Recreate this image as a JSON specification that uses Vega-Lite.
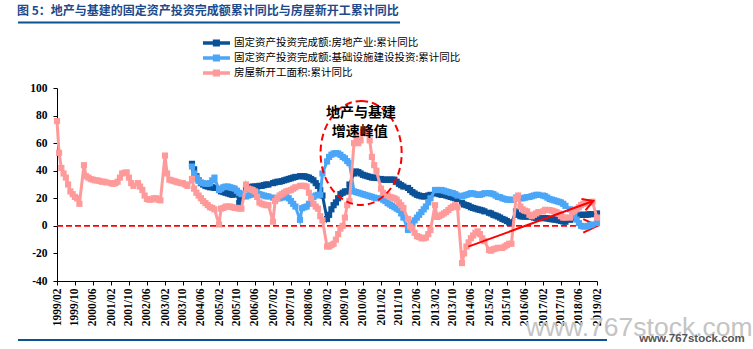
{
  "$schema": "https://vega.github.io/schema/vega-lite/v6.json",
  "width": 540,
  "height": 193,
  "autosize": "none",
  "padding": {"left": 57, "top": 88, "right": 156, "bottom": 68},
  "background": "white",
  "title": {
    "text": "图 5：地产与基建的固定资产投资完成额累计同比与房屋新开工累计同比",
    "anchor": "start", "frame": "group", "dx": -40, "dy": 12, "offset": 4,
    "font": "Noto Sans CJK SC", "fontSize": 12, "fontWeight": "bold", "color": "#1c4a8c", "baseline": "bottom"
  },
  "config": {
    "view": {"stroke": null},
    "axis": {"domainWidth": 1, "domainColor": "#000", "tickColor": "#000", "labelColor": "#000", "grid": false, "title": null, "labelOverlap": false}
  },
  "data": {"values": [
    {"d":"1999-02","c":76},{"d":"1999-03","c":53},{"d":"1999-04","c":42},{"d":"1999-05","c":38},{"d":"1999-06","c":35},{"d":"1999-07","c":30},{"d":"1999-08","c":25},{"d":"1999-09","c":23},{"d":"1999-10","c":21},{"d":"1999-11","c":20},{"d":"1999-12","c":16},
    {"d":"2000-02","c":44},{"d":"2000-03","c":36},{"d":"2000-04","c":35},{"d":"2000-05","c":34},{"d":"2000-06","c":33.5},{"d":"2000-07","c":33},{"d":"2000-08","c":33},{"d":"2000-09","c":32.5},{"d":"2000-10","c":32},{"d":"2000-11","c":32},{"d":"2000-12","c":31.5},
    {"d":"2001-02","c":31},{"d":"2001-03","c":30.5},{"d":"2001-04","c":31},{"d":"2001-05","c":32},{"d":"2001-06","c":35},{"d":"2001-07","c":38},{"d":"2001-08","c":38.5},{"d":"2001-09","c":38.8},{"d":"2001-10","c":35},{"d":"2001-11","c":31},{"d":"2001-12","c":29},
    {"d":"2002-02","c":31},{"d":"2002-03","c":28.5},{"d":"2002-04","c":26},{"d":"2002-05","c":22},{"d":"2002-06","c":19.5},{"d":"2002-07","c":19},{"d":"2002-08","c":19},{"d":"2002-09","c":20},{"d":"2002-10","c":20},{"d":"2002-11","c":19},{"d":"2002-12","c":18.5},
    {"d":"2003-02","c":51},{"d":"2003-03","c":38},{"d":"2003-04","c":33.5},{"d":"2003-05","c":33},{"d":"2003-06","c":32.5},{"d":"2003-07","c":32},{"d":"2003-08","c":31.5},{"d":"2003-09","c":31},{"d":"2003-10","c":31},{"d":"2003-11","c":30},{"d":"2003-12","c":29},
    {"d":"2004-02","a":45,"b":43,"c":34},{"d":"2004-03","a":41,"b":38,"c":27},{"d":"2004-04","a":36,"b":35,"c":24},{"d":"2004-05","a":33,"b":33,"c":22},{"d":"2004-06","a":31,"b":31.5,"c":20},{"d":"2004-07","a":30,"b":31,"c":18},{"d":"2004-08","a":29,"b":30.5,"c":16.5},{"d":"2004-09","a":28.5,"b":30.5,"c":15},{"d":"2004-10","a":28,"b":31,"c":13.5},{"d":"2004-11","a":28,"b":33,"c":13},{"d":"2004-12","a":27.5,"b":35,"c":12},
    {"d":"2005-02","a":26,"b":26,"c":1},{"d":"2005-03","a":25,"b":27,"c":12.5},{"d":"2005-04","a":24.5,"b":28,"c":13},{"d":"2005-05","a":24,"b":28.5,"c":14},{"d":"2005-06","a":23.5,"b":28.5,"c":14},{"d":"2005-07","a":23,"b":28,"c":14},{"d":"2005-08","a":22.5,"b":27.5,"c":13.5},{"d":"2005-09","a":23,"b":27,"c":13},{"d":"2005-10","a":23.5,"b":25.5,"c":13},{"d":"2005-11","a":16.5,"b":24,"c":12.5},{"d":"2005-12","a":21,"b":23,"c":12.5},
    {"d":"2006-02","a":27,"b":21.3,"c":30},{"d":"2006-03","a":27.5,"b":22,"c":27},{"d":"2006-04","a":28,"b":22.5,"c":26.5},{"d":"2006-05","a":28.5,"b":23,"c":26},{"d":"2006-06","a":28.5,"b":23.5,"c":25},{"d":"2006-07","a":28.5,"b":23.7,"c":21},{"d":"2006-08","a":29,"b":23,"c":17},{"d":"2006-09","a":29,"b":22.5,"c":16},{"d":"2006-10","a":29.5,"b":22,"c":15.5},{"d":"2006-11","a":30,"b":21.5,"c":15},{"d":"2006-12","a":30,"b":21.3,"c":15},
    {"d":"2007-02","a":31,"b":20.5,"c":3},{"d":"2007-03","a":31.5,"b":20,"c":18},{"d":"2007-04","a":32,"b":20,"c":20},{"d":"2007-05","a":32,"b":20,"c":22},{"d":"2007-06","a":32.5,"b":20.5,"c":23},{"d":"2007-07","a":33,"b":21,"c":24},{"d":"2007-08","a":33.5,"b":21.3,"c":25},{"d":"2007-09","a":34,"b":20,"c":25.5},{"d":"2007-10","a":34.5,"b":18,"c":26},{"d":"2007-11","a":35,"b":16,"c":27},{"d":"2007-12","a":35.5,"b":14,"c":28},
    {"d":"2008-02","a":36,"b":4.4,"c":29},{"d":"2008-03","a":36,"b":12.8,"c":29},{"d":"2008-04","a":36,"b":13.5,"c":29},{"d":"2008-05","a":35.5,"b":14,"c":28.5},{"d":"2008-06","a":35,"b":16,"c":24},{"d":"2008-07","a":34,"b":18.5,"c":20},{"d":"2008-08","a":33,"b":21,"c":16},{"d":"2008-09","a":31,"b":22,"c":14},{"d":"2008-10","a":29,"b":22.5,"c":12.5},{"d":"2008-11","a":26,"b":22.5,"c":7},{"d":"2008-12","a":22,"b":38,"c":4},
    {"d":"2009-02","a":5,"b":46.7,"c":-15},{"d":"2009-03","a":8,"b":50,"c":-15},{"d":"2009-04","a":12,"b":51.6,"c":-14},{"d":"2009-05","a":15,"b":52.5,"c":-13},{"d":"2009-06","a":17,"b":52.8,"c":-10},{"d":"2009-07","a":20,"b":52.5,"c":-6},{"d":"2009-08","a":23,"b":51.5,"c":-2},{"d":"2009-09","a":24,"b":50,"c":0},{"d":"2009-10","a":25,"b":49,"c":6},{"d":"2009-11","a":25,"b":47,"c":15},{"d":"2009-12","a":30,"b":45.5,"c":18},
    {"d":"2010-02","a":38,"b":25,"c":60},{"d":"2010-03","a":39.5,"b":24.5,"c":66},{"d":"2010-04","a":39,"b":24,"c":60},{"d":"2010-05","a":38,"b":23.5,"c":62},{"d":"2010-06","a":37,"b":23,"c":68},{"d":"2010-07","a":36.5,"b":22.5,"c":69},{"d":"2010-08","a":36,"b":22,"c":68},{"d":"2010-09","a":35.5,"b":21.5,"c":62},{"d":"2010-10","a":35,"b":21,"c":50},{"d":"2010-11","a":35,"b":20.5,"c":44},{"d":"2010-12","a":34.7,"b":20,"c":40},
    {"d":"2011-02","a":34,"b":20,"c":27},{"d":"2011-03","a":33.5,"b":19,"c":24},{"d":"2011-04","a":33.5,"b":18,"c":22.5},{"d":"2011-05","a":33.5,"b":16.5,"c":22},{"d":"2011-06","a":33.5,"b":15.5,"c":21},{"d":"2011-07","a":33.5,"b":14.5,"c":20.5},{"d":"2011-08","a":33.5,"b":13.5,"c":20},{"d":"2011-09","a":32,"b":12.5,"c":19},{"d":"2011-10","a":30.5,"b":11.6,"c":17},{"d":"2011-11","a":29.5,"b":9,"c":15},{"d":"2011-12","a":28.5,"b":6,"c":13},
    {"d":"2012-02","a":27.5,"b":-2.9,"c":5},{"d":"2012-03","a":26,"b":0,"c":-0.5},{"d":"2012-04","a":24.5,"b":2,"c":-2},{"d":"2012-05","a":23.5,"b":4,"c":-5},{"d":"2012-06","a":22.5,"b":6,"c":-7.5},{"d":"2012-07","a":22,"b":8,"c":-8},{"d":"2012-08","a":21.5,"b":10,"c":-9},{"d":"2012-09","a":21.3,"b":12,"c":-9},{"d":"2012-10","a":21.5,"b":14,"c":-8.5},{"d":"2012-11","a":22,"b":17,"c":-6},{"d":"2012-12","a":22.5,"b":20,"c":-3},
    {"d":"2013-02","a":23.7,"b":26,"c":15},{"d":"2013-03","a":23.5,"b":26,"c":6.5},{"d":"2013-04","a":23,"b":26,"c":7},{"d":"2013-05","a":22.5,"b":26,"c":8},{"d":"2013-06","a":22.5,"b":25.5,"c":9},{"d":"2013-07","a":22,"b":25,"c":10},{"d":"2013-08","a":21.5,"b":24.5,"c":11.5},{"d":"2013-09","a":21,"b":24,"c":13},{"d":"2013-10","a":20.5,"b":23.7,"c":14},{"d":"2013-11","a":20,"b":23,"c":15},{"d":"2013-12","a":19.5,"b":22,"c":13.5},
    {"d":"2014-02","a":16.5,"b":21.3,"c":-27},{"d":"2014-03","a":15.5,"b":22,"c":-20},{"d":"2014-04","a":15,"b":22.5,"c":-15},{"d":"2014-05","a":14.5,"b":23,"c":-12},{"d":"2014-06","a":13.5,"b":23.7,"c":-9},{"d":"2014-07","a":13,"b":23.5,"c":-7},{"d":"2014-08","a":12.5,"b":23,"c":-5},{"d":"2014-09","a":12,"b":22.5,"c":-4},{"d":"2014-10","a":11.6,"b":22.5,"c":-6},{"d":"2014-11","a":11.2,"b":23,"c":-9},{"d":"2014-12","a":10.5,"b":23.7,"c":-11},
    {"d":"2015-02","a":9.5,"b":23.7,"c":-17.5},{"d":"2015-03","a":9,"b":23.5,"c":-18},{"d":"2015-04","a":8,"b":23,"c":-17},{"d":"2015-05","a":7.5,"b":22,"c":-16.5},{"d":"2015-06","a":6.8,"b":21,"c":-16},{"d":"2015-07","a":6,"b":20.8,"c":-16},{"d":"2015-08","a":5,"b":20,"c":-16},{"d":"2015-09","a":4.4,"b":19.5,"c":-15},{"d":"2015-10","a":3.5,"b":19,"c":-14},{"d":"2015-11","a":2.5,"b":19,"c":-13},{"d":"2015-12","a":2,"b":18.9,"c":-13},
    {"d":"2016-02","a":10.5,"b":20.5,"c":20},{"d":"2016-03","a":8,"b":20,"c":22},{"d":"2016-04","a":7,"b":20,"c":14},{"d":"2016-05","a":6.8,"b":20,"c":12},{"d":"2016-06","a":6.8,"b":20.5,"c":11},{"d":"2016-07","a":6.8,"b":20.8,"c":10.5},{"d":"2016-08","a":6.8,"b":21,"c":8},{"d":"2016-09","a":6.5,"b":21.5,"c":7},{"d":"2016-10","a":6,"b":22,"c":8},{"d":"2016-11","a":5.8,"b":22.5,"c":9},{"d":"2016-12","a":5.6,"b":22.5,"c":10},
    {"d":"2017-02","a":5.6,"b":22,"c":10.5},{"d":"2017-03","a":5.6,"b":21.5,"c":11.6},{"d":"2017-04","a":5.5,"b":20.5,"c":11.5},{"d":"2017-05","a":5,"b":19.5,"c":11.5},{"d":"2017-06","a":4.8,"b":19,"c":11},{"d":"2017-07","a":4.6,"b":18.5,"c":10.5},{"d":"2017-08","a":4.4,"b":18,"c":10},{"d":"2017-09","a":4,"b":17.5,"c":9},{"d":"2017-10","a":3.6,"b":17,"c":7},{"d":"2017-11","a":3.2,"b":16,"c":6},{"d":"2017-12","a":3,"b":14.5,"c":6},
    {"d":"2018-02","a":4.4,"b":12,"c":6},{"d":"2018-03","a":5.5,"b":10,"c":10},{"d":"2018-04","a":6.5,"b":7.5,"c":11},{"d":"2018-05","a":7.5,"b":4.5,"c":12},{"d":"2018-06","a":8,"b":2,"c":13.5},{"d":"2018-07","a":8,"b":0,"c":15},{"d":"2018-08","a":8,"b":-0.5,"c":16},{"d":"2018-09","a":8,"b":-0.5,"c":17},{"d":"2018-10","a":8.2,"b":0,"c":16.5},{"d":"2018-11","a":8.5,"b":0.5,"c":17},{"d":"2018-12","a":8.5,"b":1,"c":17.5},
    {"d":"2019-02","a":9,"b":2,"c":6}
  ]},
  "transform": [{"fold": ["a", "b", "c"], "as": ["k", "v"]}],
  "layer": [
    {
      "data": {"values": [{}]},
      "mark": {"type": "rule", "color": "#ff0000", "strokeWidth": 1.6, "strokeDash": [6, 3]},
      "encoding": {
        "x": {
          "datum": {"year": 1999, "month": 2, "date": 1, "utc": true}, "type": "temporal",
          "scale": {"type": "utc", "domain": [{"year": 1999, "month": 2, "date": 1, "utc": true}, {"year": 2019, "month": 2, "date": 1, "utc": true}]},
          "axis": {
            "values": [
              {"year":1999,"month":2,"date":1,"utc":true},{"year":1999,"month":10,"date":1,"utc":true},{"year":2000,"month":6,"date":1,"utc":true},
              {"year":2001,"month":2,"date":1,"utc":true},{"year":2001,"month":10,"date":1,"utc":true},{"year":2002,"month":6,"date":1,"utc":true},
              {"year":2003,"month":2,"date":1,"utc":true},{"year":2003,"month":10,"date":1,"utc":true},{"year":2004,"month":6,"date":1,"utc":true},
              {"year":2005,"month":2,"date":1,"utc":true},{"year":2005,"month":10,"date":1,"utc":true},{"year":2006,"month":6,"date":1,"utc":true},
              {"year":2007,"month":2,"date":1,"utc":true},{"year":2007,"month":10,"date":1,"utc":true},{"year":2008,"month":6,"date":1,"utc":true},
              {"year":2009,"month":2,"date":1,"utc":true},{"year":2009,"month":10,"date":1,"utc":true},{"year":2010,"month":6,"date":1,"utc":true},
              {"year":2011,"month":2,"date":1,"utc":true},{"year":2011,"month":10,"date":1,"utc":true},{"year":2012,"month":6,"date":1,"utc":true},
              {"year":2013,"month":2,"date":1,"utc":true},{"year":2013,"month":10,"date":1,"utc":true},{"year":2014,"month":6,"date":1,"utc":true},
              {"year":2015,"month":2,"date":1,"utc":true},{"year":2015,"month":10,"date":1,"utc":true},{"year":2016,"month":6,"date":1,"utc":true},
              {"year":2017,"month":2,"date":1,"utc":true},{"year":2017,"month":10,"date":1,"utc":true},{"year":2018,"month":6,"date":1,"utc":true},
              {"year":2019,"month":2,"date":1,"utc":true}
            ],
            "tickCount": 200,
            "labelExpr": "utcFormat(datum.value, '%Y/%m')", "labelAngle": -90, "labelAlign": "right", "labelBaseline": "middle",
            "labelFont": "Liberation Serif", "labelFontWeight": "bold", "labelFontSize": 11.5,
            "tickSize": 4, "labelPadding": 3, "labelOverlap": false, "labelBound": false, "labelFlush": false
          }
        },
        "x2": {"datum": {"year": 2019, "month": 2, "date": 10, "utc": true}},
        "y": {
          "datum": 0, "type": "quantitative",
          "scale": {"domain": [-40, 100], "nice": false, "zero": false},
          "axis": {"values": [-40, -20, 0, 20, 40, 60, 80, 100], "tickCount": 50, "labelExpr": "'' + datum.value", "labelFont": "Liberation Serif", "labelFontWeight": "bold", "labelFontSize": 11.5, "tickSize": 4, "labelPadding": 6, "labelOverlap": false}
        }
      }
    },
    {
      "data": {"values": [{}]},
      "mark": {"type": "point", "shape": "M-0.9,-0.42L0,0L-0.9,0.42", "size": 1024, "filled": false, "stroke": "#ff0000", "strokeWidth": 2, "opacity": 1},
      "encoding": {
        "x": {"datum": {"year": 2019, "month": 2, "date": 10, "utc": true}, "type": "temporal"},
        "y": {"datum": 0, "type": "quantitative"}
      }
    },
    {
      "transform": [{"filter": "datum.k == 'a'"}],
      "mark": {"type": "line", "strokeWidth": 3, "point": {"shape": "square", "size": 38, "filled": true, "opacity": 1}},
      "encoding": {
        "x": {"field": "d", "type": "temporal"},
        "y": {"field": "v", "type": "quantitative"},
        "color": {
          "field": "k", "type": "nominal",
          "scale": {"domain": ["a", "b", "c"], "range": ["#0a5197", "#4ba6f7", "#ff9a9a"]},
          "legend": {
            "title": null, "orient": "none", "legendX": 164, "legendY": -51,
            "symbolType": "M-6,0L0.75,0M-3.1,-0.45L-2.2,-0.45L-2.2,0.45L-3.1,0.45Z",
            "symbolSize": 64, "symbolStrokeWidth": 3.5, "symbolFillColor": "transparent",
            "labelFont": "Noto Sans CJK SC", "labelFontSize": 10.5, "labelColor": "#000", "labelLimit": 400, "labelOffset": 1, "rowPadding": -4.5,
            "labelExpr": "datum.label == 'a' ? '固定资产投资完成额:房地产业:累计同比' : datum.label == 'b' ? '固定资产投资完成额:基础设施建设投资:累计同比' : '房屋新开工面积:累计同比'"
          }
        }
      }
    },
    {
      "transform": [{"filter": "datum.k == 'b'"}],
      "mark": {"type": "line", "strokeWidth": 3, "point": {"shape": "square", "size": 38, "filled": true, "opacity": 1}},
      "encoding": {
        "x": {"field": "d", "type": "temporal"},
        "y": {"field": "v", "type": "quantitative"},
        "color": {"field": "k", "type": "nominal"}
      }
    },
    {
      "transform": [{"filter": "datum.k == 'c'"}],
      "mark": {"type": "line", "strokeWidth": 3, "point": {"shape": "square", "size": 38, "filled": true, "opacity": 1}},
      "encoding": {
        "x": {"field": "d", "type": "temporal"},
        "y": {"field": "v", "type": "quantitative"},
        "color": {"field": "k", "type": "nominal"}
      }
    },
    {
      "data": {"values": [{}]},
      "mark": {"type": "point", "shape": "M0,-1A0.78,1,0,1,1,0,1A0.78,1,0,1,1,0,-1Z", "size": 10816, "filled": false, "stroke": "#ff0000", "strokeWidth": 2, "strokeDash": [7, 4], "opacity": 1},
      "encoding": {
        "x": {"datum": {"year": 2010, "month": 5, "date": 8, "utc": true}, "type": "temporal"},
        "y": {"datum": 52.9, "type": "quantitative"}
      }
    },
    {
      "data": {"values": [{}]},
      "mark": {"type": "text", "text": "地产与基建", "font": "Noto Sans CJK SC", "fontSize": 14, "fontWeight": "bold", "color": "#000", "align": "center", "baseline": "middle"},
      "encoding": {
        "x": {"datum": {"year": 2010, "month": 5, "date": 8, "utc": true}, "type": "temporal"},
        "y": {"datum": 81.9, "type": "quantitative"}
      }
    },
    {
      "data": {"values": [{}]},
      "mark": {"type": "text", "text": "增速峰值", "font": "Noto Sans CJK SC", "fontSize": 14, "fontWeight": "bold", "color": "#000", "align": "center", "baseline": "middle"},
      "encoding": {
        "x": {"datum": {"year": 2010, "month": 4, "date": 20, "utc": true}, "type": "temporal"},
        "y": {"datum": 68.3, "type": "quantitative"}
      }
    },
    {
      "data": {"values": [{}]},
      "mark": {"type": "rule", "color": "#ff0000", "strokeWidth": 2},
      "encoding": {
        "x": {"datum": {"year": 2014, "month": 4, "date": 27, "utc": true}, "type": "temporal"},
        "y": {"datum": -15.1, "type": "quantitative"},
        "x2": {"datum": {"year": 2018, "month": 12, "date": 13, "utc": true}},
        "y2": {"datum": 18}
      }
    },
    {
      "data": {"values": [{}]},
      "mark": {"type": "point", "shape": "M-0.87,-0.5L0,0L-0.87,0.5", "size": 576, "angle": -20, "filled": false, "stroke": "#ff0000", "strokeWidth": 2, "opacity": 1},
      "encoding": {
        "x": {"datum": {"year": 2018, "month": 12, "date": 13, "utc": true}, "type": "temporal"},
        "y": {"datum": 18, "type": "quantitative"}
      }
    },
    {
      "data": {"values": [{}]},
      "mark": {"type": "rule", "color": "#0b5394", "strokeWidth": 2},
      "encoding": {
        "x": {"datum": {"year": 1997, "month": 8, "date": 22, "utc": true}, "type": "temporal"},
        "x2": {"datum": {"year": 2011, "month": 10, "date": 16, "utc": true}},
        "y": {"datum": 147.5, "type": "quantitative"}
      }
    },
    {
      "data": {"values": [{}]},
      "mark": {"type": "rule", "color": "#0b5394", "strokeWidth": 2},
      "encoding": {
        "x": {"datum": {"year": 1997, "month": 8, "date": 22, "utc": true}, "type": "temporal"},
        "x2": {"datum": {"year": 2019, "month": 6, "date": 16, "utc": true}},
        "y": {"datum": -82.8, "type": "quantitative"}
      }
    },
    {
      "data": {"values": [{}]},
      "mark": {"type": "text", "text": "www.767stock.com", "font": "Liberation Sans", "fontSize": 26.5, "color": "#c4c4c4", "align": "center", "baseline": "alphabetic"},
      "encoding": {
        "x": {"datum": {"year": 2020, "month": 8, "date": 25, "utc": true}, "type": "temporal"},
        "y": {"datum": -79.9, "type": "quantitative"}
      }
    },
    {
      "data": {"values": [{}]},
      "mark": {"type": "text", "text": "www.767stock.com", "font": "Liberation Sans", "fontSize": 11.5, "fontWeight": "bold", "color": "#555555", "align": "center", "baseline": "middle"},
      "encoding": {
        "x": {"datum": {"year": 2022, "month": 8, "date": 9, "utc": true}, "type": "temporal"},
        "y": {"datum": -82.1, "type": "quantitative"}
      }
    }
  ]
}
